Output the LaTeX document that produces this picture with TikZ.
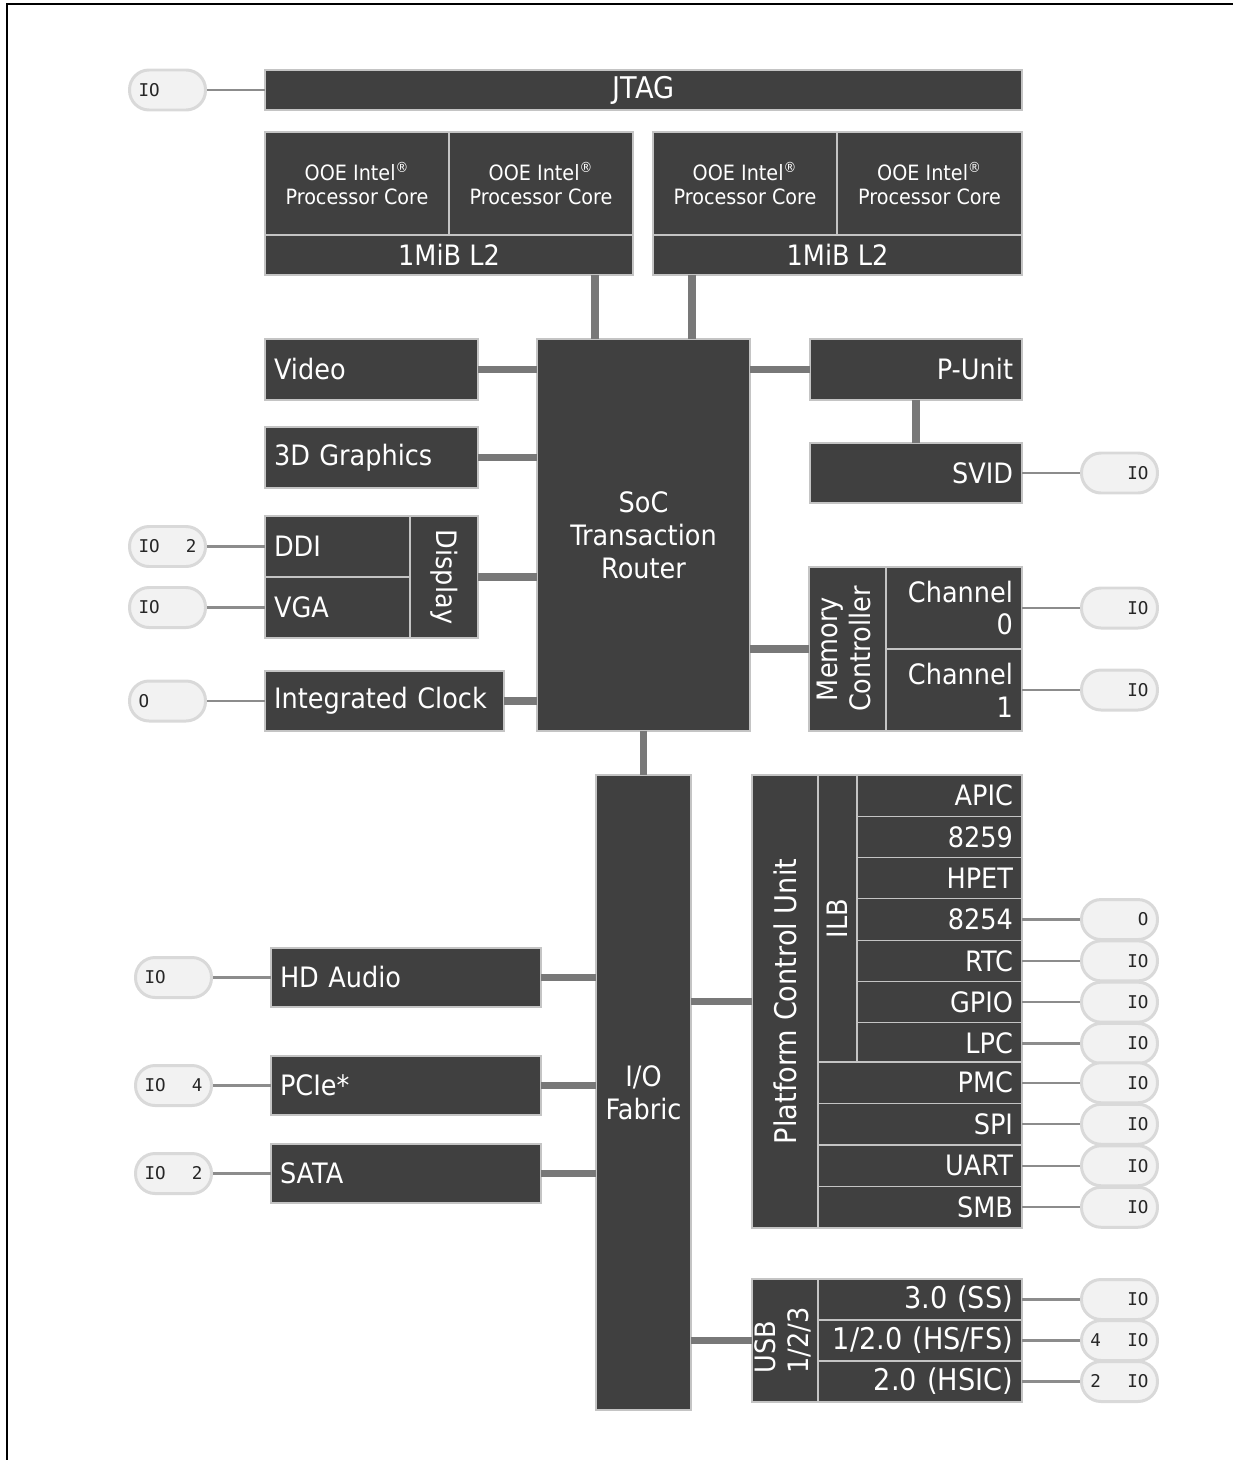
\documentclass[tikz,border=0pt]{standalone}
\usepackage{fontspec}
\setmainfont{DejaVu Sans}[FakeStretch=0.91]
\newfontfamily\pillfont{DejaVu Sans Mono}
\usepackage{xcolor}
\usepackage{tikz}
\usetikzlibrary{
    shapes,
    positioning,
    calc
}
\definecolor{blkfill}{HTML}{404040}
\definecolor{blkline}{HTML}{C4C4C4}
\definecolor{pillfill}{HTML}{F2F2F2}
\definecolor{pillline}{HTML}{D9D9D9}
\definecolor{busgray}{HTML}{787878}
\definecolor{wiregray}{HTML}{8C8C8C}
\tikzset{
  blk/.style = {
      draw=blkline,
      line width=0.6pt,
      fill=blkfill,
      text=white,
      rectangle,
      inner sep=0pt,
      outer sep=0pt,
      font=\fontsize{16}{18.7}\selectfont,
      align=center
  },
  core/.style = {
      blk,
      font=\fontsize{12}{13.6}\selectfont
  },
  big/.style = {
      font=\fontsize{17}{19.8}\selectfont
  },
  sz/.style 2 args = {
      minimum width=#1*0.02cm,
      minimum height=#2*0.02cm
  },
  lt/.style = {
      text width=#1*0.02cm,
      align=left
  },
  rt/.style = {
      text width=#1*0.02cm,
      align=right
  },
  pill/.style = {
      rectangle,
      rounded corners=0.39cm,
      draw=pillline,
      line width=1.7pt,
      fill=pillfill,
      text=black!85,
      minimum width=76*0.02cm,
      minimum height=40*0.02cm,
      inner sep=0pt,
      text width=58*0.02cm,
      font=\pillfont\fontsize{10}{12}\selectfont
  },
  lpill/.style = {
      pill,
      align=left
  },
  rpill/.style = {
      pill,
      align=right
  },
  bus/.style = {
      line width=4pt,
      draw=busgray
  },
  wire/.style = {
      line width=1.4pt,
      draw=wiregray
  }
}

\begin{document}
\begin{tikzpicture}[x=0.02cm, y=-0.02cm, node distance=1.16cm]
        \useasboundingbox (0,0) rectangle (1233,1460);
        \draw[line width=1.7pt] (7,1460) -- (7,4) -- (1233,4);
        % Nodes
        \node[blk, big, sz={757}{40}, anchor=north west] (jtag) at (265,70) {JTAG};
        \node[core, sz={184}{103}, anchor=north west] (core1) at (265,132) {OOE Intel\textsuperscript{\textregistered}\\Processor Core};
        \node[core, sz={184}{103}, right=0pt of core1] (core2) {OOE Intel\textsuperscript{\textregistered}\\Processor Core};
        \node[blk, sz={368}{40}, anchor=north west] (l2a) at (core1.south west) {1MiB L2};
        \node[core, sz={184}{103}, anchor=north west] (core3) at (653,132) {OOE Intel\textsuperscript{\textregistered}\\Processor Core};
        \node[core, sz={185}{103}, right=0pt of core3] (core4) {OOE Intel\textsuperscript{\textregistered}\\Processor Core};
        \node[blk, sz={369}{40}, anchor=north west] (l2b) at (core3.south west) {1MiB L2};
        \node[blk, sz={213}{61}, lt=195, anchor=north west] (video) at (265,339) {Video};
        \node[blk, sz={213}{61}, lt=195, anchor=north west] (gfx) at (265,427) {3D Graphics};
        \node[blk, sz={145}{61}, lt=127, anchor=north west] (ddi) at (265,516) {DDI};
        \node[blk, sz={145}{61}, lt=127, below=0pt of ddi] (vga) {VGA};
        \node[blk, sz={68}{122}, anchor=north west] (disp) at (ddi.north east) {\rotatebox{-90}{Display}};
        \node[blk, sz={239}{60}, lt=221, anchor=north west] (clk) at (265,671) {Integrated Clock};
        \node[blk, sz={213}{392}, anchor=north west] (soc) at (537,339) {SoC\\Transaction\\Router};
        \node[blk, sz={212}{61}, rt=194, anchor=north west] (punit) at (810,339) {P-Unit};
        \node[blk, sz={212}{60}, rt=194, anchor=north west] (svid) at (810,443) {SVID};
        \node[blk, sz={77}{164}, anchor=north west] (mc) at (809,567) {\rotatebox{90}{\begin{tabular}{@{}c@{}}Memory\\Controller\end{tabular}}};
        \node[blk, sz={136}{82}, rt=118, anchor=north west] (ch0) at (886,567) {Channel\\0};
        \node[blk, sz={136}{82}, rt=118, below=0pt of ch0] (ch1) {Channel\\1};
        \node[blk, sz={95}{635}, anchor=north west] (fab) at (596,775) {I/O\\Fabric};
        \node[blk, sz={270}{59}, lt=252, anchor=north west] (hda) at (271,948) {HD Audio};
        \node[blk, sz={270}{59}, lt=252, anchor=north west] (pcie) at (271,1056) {PCIe*};
        \node[blk, sz={270}{59}, lt=252, anchor=north west] (sata) at (271,1144) {SATA};
        \node[blk, big, sz={66}{453}, anchor=north west] (pcu) at (752,775) {\rotatebox{90}{Platform Control Unit}};
        \node[blk, sz={39}{287}, anchor=north west] (ilb) at (818,775) {\rotatebox{90}{ILB}};
        \node[blk, sz={165}{41.3}, rt=147, anchor=north west] (apic) at (857,775) {APIC};
        \node[blk, sz={165}{41.3}, rt=147, below=0pt of apic] (pic8259) {8259};
        \node[blk, sz={165}{41.3}, rt=147, below=0pt of pic8259] (hpet) {HPET};
        \node[blk, sz={165}{41.3}, rt=147, below=0pt of hpet] (pit8254) {8254};
        \node[blk, sz={165}{41.3}, rt=147, below=0pt of pit8254] (rtc) {RTC};
        \node[blk, sz={165}{41.3}, rt=147, below=0pt of rtc] (gpio) {GPIO};
        \node[blk, sz={165}{41.3}, rt=147, below=0pt of gpio] (lpc) {LPC};
        \node[blk, sz={204}{41.5}, rt=186, anchor=north west] (pmc) at (818,1062) {PMC};
        \node[blk, sz={204}{41.5}, rt=186, below=0pt of pmc] (spi) {SPI};
        \node[blk, sz={204}{41.5}, rt=186, below=0pt of spi] (uart) {UART};
        \node[blk, sz={204}{41.5}, rt=186, below=0pt of uart] (smb) {SMB};
        \node[blk, sz={66}{123}, anchor=north west] (usb) at (752,1279) {\rotatebox{90}{\begin{tabular}{@{}l@{}}USB\\1/2/3\end{tabular}}};
        \node[blk, big, sz={204}{41}, rt=186, anchor=north west] (ss) at (818,1279) {3.0 (SS)};
        \node[blk, big, sz={204}{41}, rt=186, below=0pt of ss] (hs) {1/2.0 (HS/FS)};
        \node[blk, big, sz={204}{41}, rt=186, below=0pt of hs] (hsic) {2.0 (HSIC)};
        % Pins
        \node[lpill, left=of jtag] (io-jtag) {IO\hfill};
        \node[lpill, left=of ddi] (io-ddi) {IO\hfill 2};
        \node[lpill, left=of vga] (io-vga) {IO\hfill};
        \node[lpill, left=of clk] (io-clk) {O\hfill};
        \node[lpill, left=of hda] (io-hda) {IO\hfill};
        \node[lpill, left=of pcie] (io-pcie) {IO\hfill 4};
        \node[lpill, left=of sata] (io-sata) {IO\hfill 2};
        \node[rpill, right=of svid] (io-svid) {\hfill IO};
        \node[rpill, right=of ch0] (io-ch0) {\hfill IO};
        \node[rpill, right=of ch1] (io-ch1) {\hfill IO};
        \node[rpill, right=of pit8254] (io-pit) {\hfill O};
        \node[rpill, right=of rtc] (io-rtc) {\hfill IO};
        \node[rpill, right=of gpio] (io-gpio) {\hfill IO};
        \node[rpill, right=of lpc] (io-lpc) {\hfill IO};
        \node[rpill, right=of pmc] (io-pmc) {\hfill IO};
        \node[rpill, right=of spi] (io-spi) {\hfill IO};
        \node[rpill, right=of uart] (io-uart) {\hfill IO};
        \node[rpill, right=of smb] (io-smb) {\hfill IO};
        \node[rpill, right=of ss] (io-ss) {\hfill IO};
        \node[rpill, right=of hs] (io-hs) {4\hfill IO};
        \node[rpill, right=of hsic] (io-hsic) {2\hfill IO};
        \coordinate (l2a-bus) at ($(l2a.south east)+(-38,0)$);
        \coordinate (l2b-bus) at ($(l2b.south west)+(39,0)$);
        % Buses
        \path[draw, bus]
        (l2a-bus) edge (l2a-bus |- soc.north)
        (l2b-bus) edge (l2b-bus |- soc.north)
        (video) edge (video -| soc.west)
        (gfx) edge (gfx -| soc.west)
        (disp) edge (disp -| soc.west)
        (clk) edge (clk -| soc.west)
        (punit) edge (punit -| soc.east)
        (punit) edge (svid)
        (mc) edge (mc -| soc.east)
        (soc) edge (fab)
        (hda) edge (hda -| fab.west)
        (pcie) edge (pcie -| fab.west)
        (sata) edge (sata -| fab.west)
        (pcu) edge (pcu -| fab.east)
        (usb) edge (usb -| fab.east);
        % Pin wires
        \path[draw, wire]
        (io-jtag) edge (jtag)
        (io-ddi) edge (ddi)
        (io-vga) edge (vga)
        (io-clk) edge (clk)
        (io-hda) edge (hda)
        (io-pcie) edge (pcie)
        (io-sata) edge (sata)
        (svid) edge (io-svid)
        (ch0) edge (io-ch0)
        (ch1) edge (io-ch1)
        (pit8254) edge (io-pit)
        (rtc) edge (io-rtc)
        (gpio) edge (io-gpio)
        (lpc) edge (io-lpc)
        (pmc) edge (io-pmc)
        (spi) edge (io-spi)
        (uart) edge (io-uart)
        (smb) edge (io-smb)
        (ss) edge (io-ss)
        (hs) edge (io-hs)
        (hsic) edge (io-hsic);
    \end{tikzpicture}
\end{document}
